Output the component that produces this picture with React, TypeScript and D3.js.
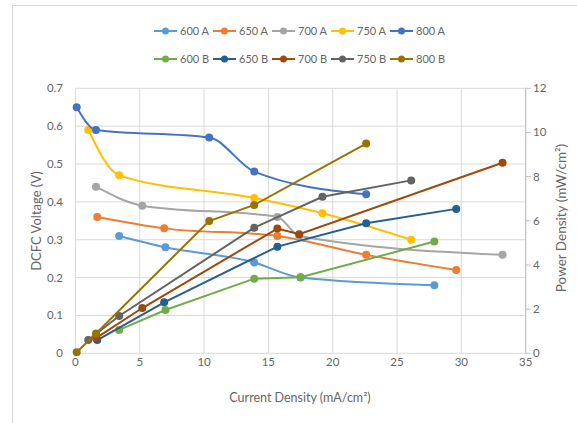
import React, { useEffect } from "react";
import * as d3 from "d3";

// current density (mA/cm2) per temperature
const current600 = [3.4, 7.0, 13.9, 17.5, 27.9];
const current650 = [1.7, 6.9, 15.7, 22.6, 29.6];
const current700 = [1.6, 5.2, 15.7, 17.4, 33.2];
const current750 = [1.0, 3.4, 13.9, 19.2, 26.1];
const current800 = [0.1, 1.6, 10.4, 13.9, 22.6];

// DCFC voltage (V) - "A" series
const voltage600 = [0.31, 0.28, 0.24, 0.2, 0.18];
const voltage650 = [0.36, 0.33, 0.31, 0.26, 0.22];
const voltage700 = [0.44, 0.39, 0.36, 0.31, 0.26];
const voltage750 = [0.59, 0.47, 0.41, 0.37, 0.3];
const voltage800 = [0.65, 0.59, 0.57, 0.48, 0.42];

// power density (mW/cm2) - "B" series
const power600 = [1.06, 1.96, 3.38, 3.44, 5.06];
const power650 = [0.6, 2.31, 4.83, 5.89, 6.54];
const power700 = [0.69, 2.05, 5.65, 5.39, 8.63];
const power750 = [0.6, 1.69, 5.69, 7.09, 7.83];
const power800 = [0.05, 0.9, 5.99, 6.72, 9.5];

const temps = ["600", "650", "700", "750", "800"];
const currents = [current600, current650, current700, current750, current800];
const voltages = [voltage600, voltage650, voltage700, voltage750, voltage800];
const powers = [power600, power650, power700, power750, power800];

const colorsA = ["#5B9BD5", "#ED7D31", "#A5A5A5", "#FFC000", "#4472C4"];
const colorsB = ["#70AD47", "#255E91", "#9E480E", "#636363", "#997300"];

const xTicks = [0, 5, 10, 15, 20, 25, 30, 35];
const vTicks = [0, 0.1, 0.2, 0.3, 0.4, 0.5, 0.6, 0.7];
const pTicks = [0, 2, 4, 6, 8, 10, 12];

const FONT = "Lato, 'Open Sans', sans-serif";
const TXT = "#666";

export default function App() {
  useEffect(() => {
    document.body.style.margin = "0";
  }, []);

  const x = d3.scaleLinear().domain([0, 35]).range([75.4, 525.7]);
  const yV = d3.scaleLinear().domain([0, 0.7]).range([353.3, 88.3]);
  const yP = d3.scaleLinear().domain([0, 12]).range([353.3, 88.3]);

  // voltage curves are smoothed, power lines are straight
  const lineV = d3
    .line<[number, number]>()
    .x((d) => x(d[0]))
    .y((d) => yV(d[1]))
    .curve(d3.curveMonotoneX);
  const lineP = d3
    .line<[number, number]>()
    .x((d) => x(d[0]))
    .y((d) => yP(d[1]));

  const seriesA = temps.map((t, i) => ({
    name: `${t} A`,
    color: colorsA[i],
    pts: currents[i].map((c, j) => [c, voltages[i][j]] as [number, number]),
  }));
  const seriesB = temps.map((t, i) => ({
    name: `${t} B`,
    color: colorsB[i],
    pts: currents[i].map((c, j) => [c, powers[i][j]] as [number, number]),
  }));

  return (
    <svg width={577} height={423} style={{ display: "block", background: "#fff" }}>
      {/* chart frame */}
      <rect x={12.5} y={5.5} width={600} height={440} fill="#fff" stroke="#D9D9D9" />

      {/* legend */}
      {[seriesA, seriesB].map((row, r) =>
        row.map((s, i) => {
          const lx = 154 + i * 59;
          const ly = r === 0 ? 31 : 59;
          return (
            <g key={s.name}>
              <line x1={lx} x2={lx + 23} y1={ly} y2={ly} stroke={s.color} strokeWidth={2} />
              <circle cx={lx + 11.5} cy={ly} r={3.5} fill={s.color} />
              <text x={lx + 26} y={ly + 4} fontSize={11} fill={TXT} fontFamily={FONT}>
                {s.name}
              </text>
            </g>
          );
        })
      )}

      {/* gridlines */}
      {vTicks.map((t) => (
        <line key={"h" + t} x1={x(0)} x2={x(35)} y1={yV(t)} y2={yV(t)} stroke="#D9D9D9" />
      ))}
      {xTicks.map((t) => (
        <line key={"v" + t} x1={x(t)} x2={x(t)} y1={yV(0)} y2={yV(0.7)} stroke="#D9D9D9" />
      ))}

      {/* right axis */}
      <line x1={x(35)} x2={x(35)} y1={yP(0)} y2={yP(12)} stroke="#BFBFBF" />
      {pTicks.map((t) => (
        <g key={"p" + t}>
          <line x1={x(35)} x2={x(35) + 5} y1={yP(t)} y2={yP(t)} stroke="#BFBFBF" />
          <text x={533} y={yP(t) + 4} fontSize={11.5} fill={TXT} fontFamily={FONT}>
            {t}
          </text>
        </g>
      ))}

      {/* left tick labels */}
      {vTicks.map((t) => (
        <text key={"lv" + t} x={63} y={yV(t) + 4} fontSize={11.5} fill={TXT} fontFamily={FONT} textAnchor="end">
          {t === 0 ? "0" : d3.format(".1f")(t)}
        </text>
      ))}

      {/* x tick labels */}
      {xTicks.map((t) => (
        <text key={"lx" + t} x={x(t)} y={366} fontSize={11.5} fill={TXT} fontFamily={FONT} textAnchor="middle">
          {t}
        </text>
      ))}

      {/* axis titles */}
      <text x={300} y={402} fontSize={12.5} fill={TXT} fontFamily={FONT} textAnchor="middle">
        Current Density (mA/cm²)
      </text>
      <text
        transform="translate(41,221) rotate(-90)"
        fontSize={13}
        fill={TXT}
        fontFamily={FONT}
        textAnchor="middle"
      >
        DCFC Voltage (V)
      </text>
      <text
        transform="translate(566,218) rotate(-90)"
        fontSize={13.5}
        fill={TXT}
        fontFamily={FONT}
        textAnchor="middle"
      >
        Power Density (mW/cm²)
      </text>

      {/* voltage series */}
      {seriesA.map((s) => (
        <g key={s.name}>
          <path d={lineV(s.pts) || ""} fill="none" stroke={s.color} strokeWidth={2} />
          {s.pts.map((p, j) => (
            <circle key={j} cx={x(p[0])} cy={yV(p[1])} r={4} fill={s.color} />
          ))}
        </g>
      ))}

      {/* power series */}
      {seriesB.map((s) => (
        <g key={s.name}>
          <path d={lineP(s.pts) || ""} fill="none" stroke={s.color} strokeWidth={2} />
          {s.pts.map((p, j) => (
            <circle key={j} cx={x(p[0])} cy={yP(p[1])} r={4} fill={s.color} />
          ))}
        </g>
      ))}
    </svg>
  );
}
